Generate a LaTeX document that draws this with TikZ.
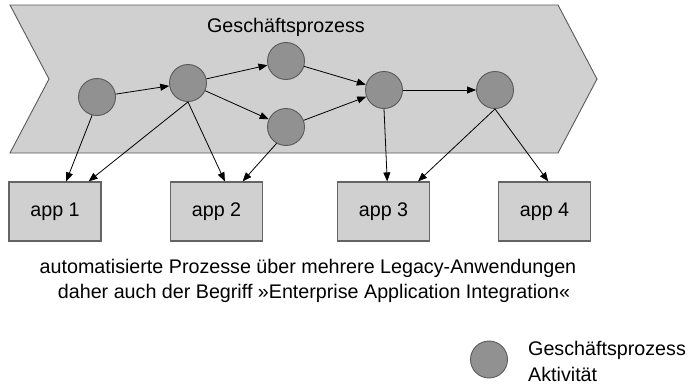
\documentclass[tikz,border=0pt]{standalone}
\usepackage{fontspec}
\setmainfont{Liberation Sans}
\usetikzlibrary{arrows.meta,calc}
\definecolor{chevfill}{RGB}{208,208,208}
\definecolor{chevdraw}{RGB}{90,90,90}
\definecolor{actfill}{RGB}{145,145,145}
\definecolor{actdraw}{RGB}{90,90,90}
\definecolor{boxfill}{RGB}{208,208,208}
\definecolor{boxdraw}{RGB}{100,100,100}
\begin{document}
\begin{tikzpicture}[x=1pt,y=-1pt,
  every node/.style={font=\fontsize{19.7}{25}\selectfont},
  chev/.style={fill=chevfill,draw=chevdraw,line width=0.9},
  act/.style={circle,draw=actdraw,fill=actfill,minimum size=37,inner sep=0,line width=0.9},
  appbox/.style={rectangle,draw=boxdraw,fill=boxfill,minimum width=92,minimum height=59,inner sep=0,line width=1.2},
  arr/.style={-{Triangle[length=9pt,width=7pt]},line width=0.8,black},
  lbl/.style={inner sep=0,anchor=base}]
\useasboundingbox (0,0) rectangle (693,384);
% chevron
\draw[chev] (10,5) -- (558,5) -- (597,79) -- (558,153) -- (10,153) -- (49,79) -- cycle;
\node[lbl] (title) at (286,32) {Geschäftsprozess};
% activities
\node[act] (c1) at (97,97) {};
\node[act] (c2) at (188,83) {};
\node[act] (c3) at (286,61) {};
\node[act] (c4) at (286,127) {};
\node[act] (c5) at (384,90) {};
\node[act] (c6) at (495,90) {};
% apps
\node[appbox] (app1) at (55,211.5) {app 1};
\node[appbox] (app2) at (216.5,211.5) {app 2};
\node[appbox] (app3) at (383.5,211.5) {app 3};
\node[appbox] (app4) at (544.5,211.5) {app 4};
% targets on box tops
\coordinate (t11) at ($(app1.north west)!0.62!(app1.north east)$);
\coordinate (t12) at ($(app1.north west)!0.86!(app1.north east)$);
\coordinate (t21) at ($(app2.north west)!0.59!(app2.north east)$);
\coordinate (t22) at ($(app2.north west)!0.78!(app2.north east)$);
\coordinate (t31) at ($(app3.north west)!0.54!(app3.north east)$);
\coordinate (t32) at ($(app3.north west)!0.87!(app3.north east)$);
\coordinate (t41) at ($(app4.north west)!0.54!(app4.north east)$);
% process flow
\draw[arr] (c1) -- (c2);
\draw[arr] (c2) -- (c3);
\draw[arr] (c2) -- (c4);
\draw[arr] (c3) -- (c5);
\draw[arr] (c4) -- (c5);
\draw[arr] (c5) -- (c6);
% to apps
\draw[arr] (c1.-105) -- (t11);
\draw[arr] (c2.south) -- (t12);
\draw[arr] (c2.south) -- (t21);
\draw[arr] (c4.-120) -- (t22);
\draw[arr] (c5.south) -- (t31);
\draw[arr] (c6.south) -- (t32);
\draw[arr] (c6.south) -- (t41);
% caption
\node[lbl] (cap1) at (308,273) {automatisierte Prozesse über mehrere Legacy-Anwendungen};
\node[lbl] (cap2) at (314,298) {daher auch der Begriff »Enterprise Application Integration«};
% legend
\node[act] (leg) at (489,359.5) {};
\node[lbl,anchor=base west] (leg1) at (528,355) {Geschäftsprozess};
\node[lbl,anchor=base west] (leg2) at (528,381) {Aktivität};
\end{tikzpicture}
\end{document}
